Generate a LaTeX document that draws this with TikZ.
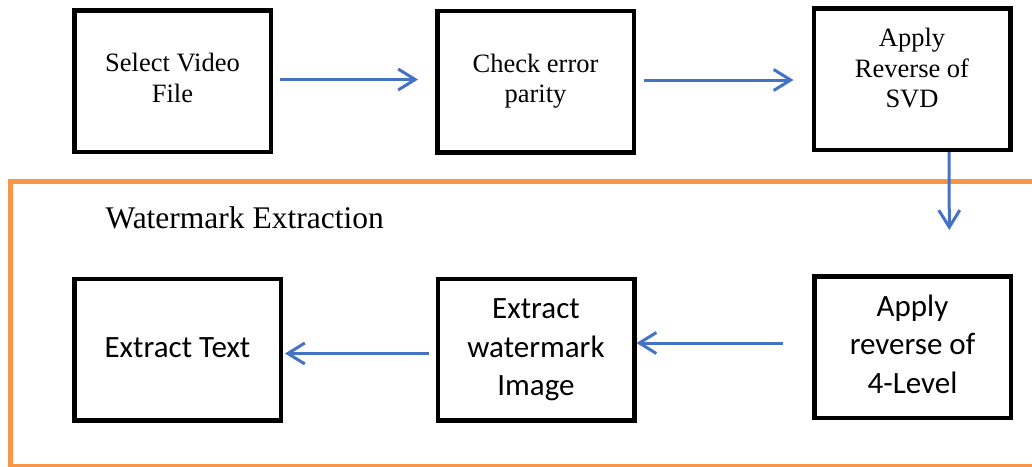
\documentclass[tikz,border=0pt]{standalone}
\usepackage{fontspec}
\usepackage{array}
\setmainfont{Liberation Serif}
\newfontfamily\timesfont{Liberation Serif}
\newfontfamily\calibri{Carlito}
\usepackage{tikz}
\usetikzlibrary{arrows.meta}
\definecolor{flowblue}{RGB}{68,114,196}
\definecolor{frameorange}{RGB}{247,150,70}
\newcommand{\toplines}[1]{{\fontsize{26.5}{30.5}\selectfont\begin{tabular}{@{}>{\timesfont\fontsize{26.5}{30.5}\selectfont}c@{}}#1\end{tabular}}}
\newcommand{\lowlines}[1]{{\fontsize{31}{38.5}\selectfont\begin{tabular}{@{}>{\calibri\fontsize{31}{38.5}\selectfont}c@{}}#1\end{tabular}}}

\begin{document}
\begin{tikzpicture}[line cap=butt,line join=miter,x=1pt,y=-1pt,
    stepbox/.style={draw=black,line width=4.5pt,minimum width=196.5pt,minimum height=141.5pt,inner sep=0pt},
    flow/.style={draw=flowblue,line width=3pt,-{Straight Barb[length=17pt,width=21pt,line width=3pt]}}]
                \useasboundingbox (0,0) rectangle (1032,466);
                \clip (0,0) rectangle (1032,466);
                \draw [draw=frameorange,line width=5pt] (10.5,181.5) rectangle (1045,466.5);
                \node [anchor=base west,font=\timesfont\fontsize{31.5}{36}\selectfont] (title) at (102,228) {Watermark Extraction};
                \node [stepbox] (select) at (172.5,81) {\toplines{Select Video\\File}};
                \node [stepbox] (parity) at (535.5,81.5) {\toplines{Check error\\parity}};
                \node [stepbox] (svd) at (912,79) {\toplines{Apply\\Reverse of\\SVD\\[16pt]}};
                \node [stepbox,minimum width=206.5pt] (text) at (177.5,349.5) {\lowlines{Extract Text}};
                \node [stepbox] (image) at (536,349.5) {\lowlines{Extract\\watermark\\Image}};
                \node [stepbox] (level) at (912.5,347) {\lowlines{Apply\\reverse of\\4-Level}};
                \draw [flow,shorten <=7pt,shorten >=17pt] ([yshift=1.5pt]select.east) -- ([yshift=1.5pt]select.east -| parity.west);
                \draw [flow,shorten <=8pt,shorten >=18pt] ([yshift=1.5pt]parity.east) -- ([yshift=1.5pt]parity.east -| svd.west);
                \draw [flow,shorten <=0pt,shorten >=44pt] ([xshift=37pt]svd.south) -- ([xshift=37pt]level.north);
                \draw [flow,shorten <=29pt] ([yshift=4pt]level.west) -- ([yshift=4pt]level.west -| image.east);
                \draw [flow,shorten <=7pt,shorten >=2pt] ([yshift=-4pt]image.west) -- ([yshift=-4pt]image.west -| text.east);
\end{tikzpicture}
\end{document}
